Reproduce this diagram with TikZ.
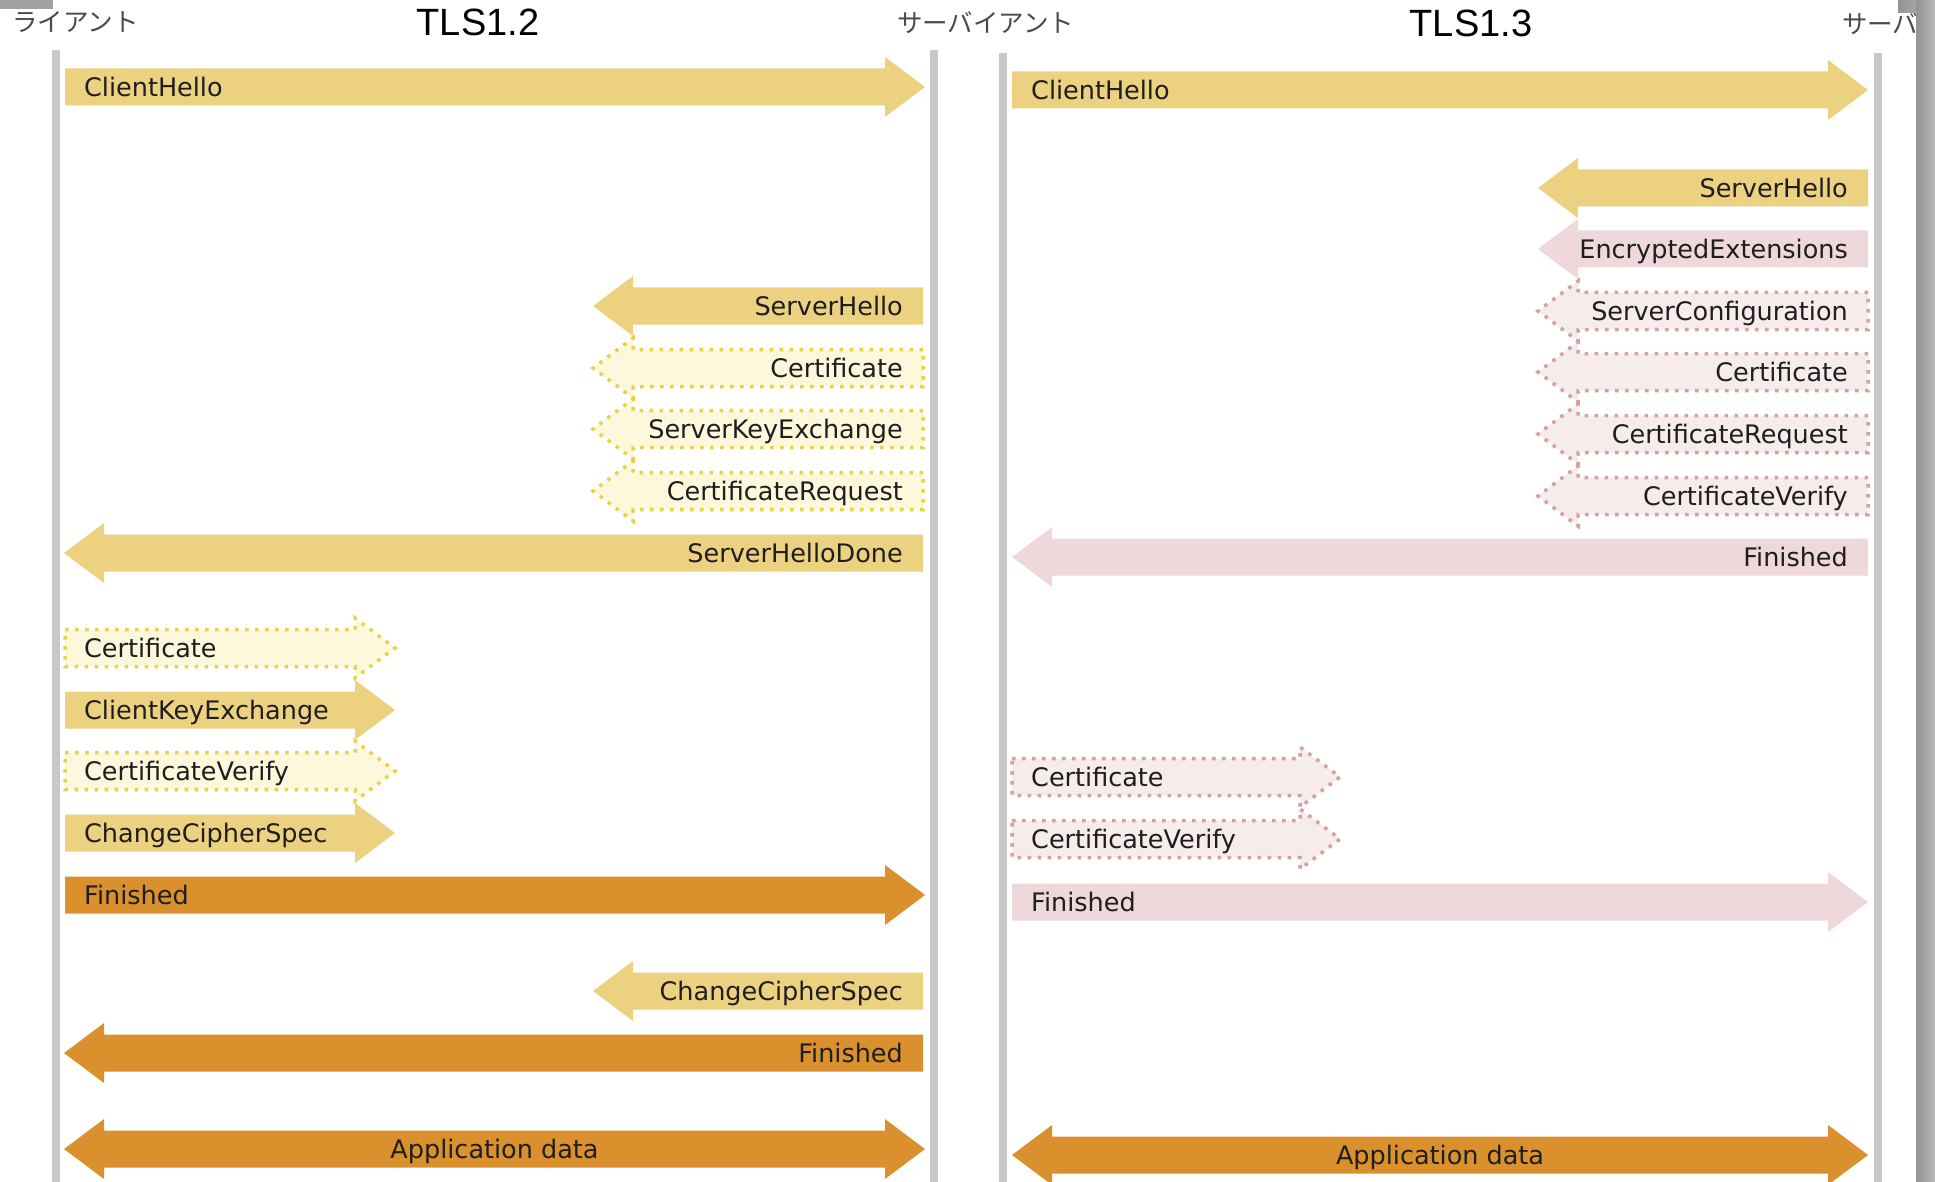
\documentclass[tikz,border=0pt]{standalone}
\usepackage{fontspec}
\setmainfont{DejaVu Sans}
\newfontfamily\jpfont{Noto Sans CJK JP}
\newfontfamily\headfont{Liberation Sans}

\definecolor{lineGrey}{RGB}{200,200,200}
\definecolor{gold}{RGB}{236,209,129}
\definecolor{orangeMsg}{RGB}{218,145,45}
\definecolor{pinkMsg}{RGB}{238,216,219}
\definecolor{paleYellow}{RGB}{253,248,220}
\definecolor{dotYellow}{RGB}{230,212,70}
\definecolor{palePink}{RGB}{246,236,236}
\definecolor{dotPink}{RGB}{214,160,158}
\definecolor{ink}{RGB}{30,30,30}
\definecolor{roleGrey}{RGB}{75,75,75}

\tikzset{
  lifeline/.style={draw=lineGrey, line width=8pt},
  goldmsg/.style={fill=gold},
  orangemsg/.style={fill=orangeMsg},
  pinkmsg/.style={fill=pinkMsg},
  optyellow/.style={fill=paleYellow, draw=dotYellow, line width=3.5pt, dash pattern=on 3.5pt off 6.5pt},
  optpink/.style={fill=palePink, draw=dotPink, line width=3.5pt, dash pattern=on 3.5pt off 6.5pt},
  msglabel/.style={inner sep=0pt, text=ink, font=\fontsize{25.5}{29}\selectfont},
  rolelabel/.style={inner sep=0pt, text=roleGrey, anchor=west, font=\jpfont\fontsize{25.5}{28}\selectfont},
  versionlabel/.style={inner sep=0pt, text=black, font=\headfont\fontsize{38}{42}\selectfont},
}

% message arrow pointing right: name, style, tail x, tip x, centre y, label
\newcommand\MsgRight[6]{%
  \path[#2] (#3,#5-18.5) -- (#4-40,#5-18.5) -- (#4-40,#5-30) -- (#4,#5)
    -- (#4-40,#5+30) -- (#4-40,#5+18.5) -- (#3,#5+18.5) -- cycle;
  \node[msglabel, anchor=base west] (#1) at (#3+19,#5+9.5) {#6};
}
% message arrow pointing left: name, style, tail x, tip x, centre y, label
\newcommand\MsgLeft[6]{%
  \path[#2] (#3,#5-18.5) -- (#4+40,#5-18.5) -- (#4+40,#5-30) -- (#4,#5)
    -- (#4+40,#5+30) -- (#4+40,#5+18.5) -- (#3,#5+18.5) -- cycle;
  \node[msglabel, anchor=base east] (#1) at (#3-20,#5+9.5) {#6};
}
% two-way arrow: name, style, left tip x, right tip x, centre y, label
\newcommand\MsgBoth[6]{%
  \path[#2] (#3+40,#5-18.5) -- (#4-40,#5-18.5) -- (#4-40,#5-30) -- (#4,#5)
    -- (#4-40,#5+30) -- (#4-40,#5+18.5) -- (#3+40,#5+18.5) -- (#3+40,#5+30)
    -- (#3,#5) -- (#3+40,#5-30) -- cycle;
  \node[msglabel, anchor=base] (#1) at ({(#3+#4)/2},#5+9.5) {#6};
}

\begin{document}
\begin{tikzpicture}[x=1pt, y=-1pt]
\useasboundingbox (0,0) rectangle (1935,1182);
\fill[white] (0,0) rectangle (1935,1182);

% headings
\node[rolelabel] (client12) at (12,22) {ライアント};
\node[versionlabel] (tls12) at (478,22.5) {TLS1.2};
\node[rolelabel] (server12) at (897,23) {サーバイアント};
\node[versionlabel] (tls13) at (1471,23.5) {TLS1.3};
\node[rolelabel] (server13) at (1842,24) {サーバ};

% lifelines
\coordinate (cl12top) at (56,50);    \coordinate (cl12bot) at (56,1182);
\coordinate (sv12top) at (934,50);   \coordinate (sv12bot) at (934,1182);
\coordinate (cl13top) at (1003,53);  \coordinate (cl13bot) at (1003,1182);
\coordinate (sv13top) at (1878,53);  \coordinate (sv13bot) at (1878,1182);
\draw[lifeline] (cl12top) -- (cl12bot);
\draw[lifeline] (sv12top) -- (sv12bot);
\draw[lifeline] (cl13top) -- (cl13bot);
\draw[lifeline] (sv13top) -- (sv13bot);

% ---- TLS 1.2 handshake ----
\MsgRight{a1}{goldmsg}{65}{925}{87}{ClientHello}
\MsgLeft{a2}{goldmsg}{923}{593}{306}{ServerHello}
\MsgLeft{a3}{optyellow}{923}{593}{368}{Certificate}
\MsgLeft{a4}{optyellow}{923}{593}{429}{ServerKeyExchange}
\MsgLeft{a5}{optyellow}{923}{593}{491}{CertificateRequest}
\MsgLeft{a6}{goldmsg}{923}{64}{553}{ServerHelloDone}
\MsgRight{a7}{optyellow}{65}{395}{648}{Certificate}
\MsgRight{a8}{goldmsg}{65}{395}{710}{ClientKeyExchange}
\MsgRight{a9}{optyellow}{65}{395}{771}{CertificateVerify}
\MsgRight{a10}{goldmsg}{65}{395}{833}{ChangeCipherSpec}
\MsgRight{a11}{orangemsg}{65}{925}{895}{Finished}
\MsgLeft{a12}{goldmsg}{923}{593}{991}{ChangeCipherSpec}
\MsgLeft{a13}{orangemsg}{923}{64}{1053}{Finished}
\MsgBoth{a14}{orangemsg}{64}{925}{1149}{Application data}

% ---- TLS 1.3 handshake ----
\MsgRight{b1}{goldmsg}{1012}{1868}{90}{ClientHello}
\MsgLeft{b2}{goldmsg}{1868}{1538}{188}{ServerHello}
\MsgLeft{b3}{pinkmsg}{1868}{1538}{249}{EncryptedExtensions}
\MsgLeft{b4}{optpink}{1868}{1538}{311}{ServerConfiguration}
\MsgLeft{b5}{optpink}{1868}{1538}{372}{Certificate}
\MsgLeft{b6}{optpink}{1868}{1538}{434}{CertificateRequest}
\MsgLeft{b7}{optpink}{1868}{1538}{496}{CertificateVerify}
\MsgLeft{b8}{pinkmsg}{1868}{1012}{557}{Finished}
\MsgRight{b9}{optpink}{1012}{1340}{777}{Certificate}
\MsgRight{b10}{optpink}{1012}{1340}{839}{CertificateVerify}
\MsgRight{b11}{pinkmsg}{1012}{1868}{902}{Finished}
\MsgBoth{b12}{orangemsg}{1012}{1868}{1155}{Application data}

% window edges
\fill[black!37] (0,0) rectangle (53,9);
\shade[left color=black!42, right color=black!28] (1898,0) rectangle (1935,13);
\shade[left color=black!42, right color=black!28] (1916,0) rectangle (1935,1182);
\end{tikzpicture}
\end{document}
